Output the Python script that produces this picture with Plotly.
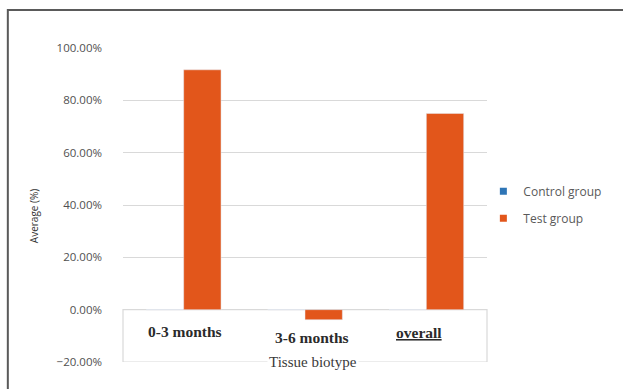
import plotly.graph_objects as go

# Chart data
categories = ["0-3 months", "3-6 months", "overall"]
control_group = [0.0, 0.0, 0.0]
test_group = [0.9167, -0.0385, 0.75]
y_ticks = [-0.2, 0.0, 0.2, 0.4, 0.6, 0.8, 1.0]

ORANGE = "#e2561b"
BLUE = "#2e75b6"
GRID = "#d9d9d9"
TEXT_GRAY = "#595959"

fig = go.Figure()

fig.add_trace(go.Bar(x=categories, y=control_group, name="Control group",
                     marker_color=BLUE, showlegend=False))
fig.add_trace(go.Bar(x=categories, y=test_group, name="Test group",
                     marker_color=ORANGE, showlegend=False))

# Small square legend keys
for name, color in [("Control group", BLUE), ("Test group", ORANGE)]:
    fig.add_trace(go.Scatter(x=[None], y=[None], mode="markers", name=name,
                             legendgroup=name,
                             marker=dict(symbol="square", size=7, color=color)))

# Category labels set under the zero line
label_shift = {"0-3 months": (1, -0.084), "3-6 months": (7, -0.108), "overall": (-7, -0.088)}
for cat in categories:
    dx, yy = label_shift[cat]
    txt = "<u>overall</u>" if cat == "overall" else cat
    fig.add_annotation(x=cat, y=yy, xref="x", yref="y", text=txt, showarrow=False,
                       xshift=dx,
                       font=dict(family="Liberation Serif", size=15.5, color="#2b2b2b",
                                 weight="bold"))

# Axis titles
fig.add_annotation(x=categories[1], y=-0.1985, xref="x", yref="y", text="Tissue biotype",
                   showarrow=False, xshift=8, bgcolor="white",
                   font=dict(family="Liberation Serif", size=15, color="#3a3a3a"))
fig.add_annotation(x=-0.244, y=0.465, xref="paper", yref="paper", text="Average (%)",
                   showarrow=False, textangle=-90, xanchor="center", yanchor="middle",
                   font=dict(family="Open Sans", size=10, color="#333333"))

# Box around the category label band and the outer frame
fig.add_shape(type="rect", xref="paper", yref="y", x0=0, x1=1, y0=-0.2, y1=0,
              line=dict(color=GRID, width=1.2), fillcolor="rgba(0,0,0,0)", layer="below")
fig.add_shape(type="rect", xref="paper", yref="paper", x0=-0.3164, x1=1.6, y0=-0.4, y1=1.121,
              line=dict(color="#5a5a5a", width=2), fillcolor="rgba(0,0,0,0)")

fig.update_layout(
    width=623, height=389,
    margin=dict(l=123, r=136, t=48, b=27),
    paper_bgcolor="white", plot_bgcolor="white",
    barmode="group", bargap=0.384, bargroupgap=0,
    showlegend=True,
    legend=dict(x=0.99, y=0.59, xanchor="left", yanchor="top",
                traceorder="grouped", tracegroupgap=8, itemwidth=30,
                font=dict(family="Open Sans", size=12, color=TEXT_GRAY),
                bgcolor="rgba(0,0,0,0)"),
    xaxis=dict(showticklabels=False, showgrid=False, zeroline=False, showline=False,
               range=[-0.5, 2.5]),
    yaxis=dict(range=[-0.2, 1.0], tickvals=y_ticks, tickformat=".2%",
               showgrid=True, gridcolor=GRID, gridwidth=1.2,
               zeroline=True, zerolinecolor=GRID, zerolinewidth=1.2,
               showline=False, ticks="", ticklabelstandoff=20,
               tickfont=dict(family="Open Sans", size=11.5, color="#505050")),
)

fig.write_html("out.html")
